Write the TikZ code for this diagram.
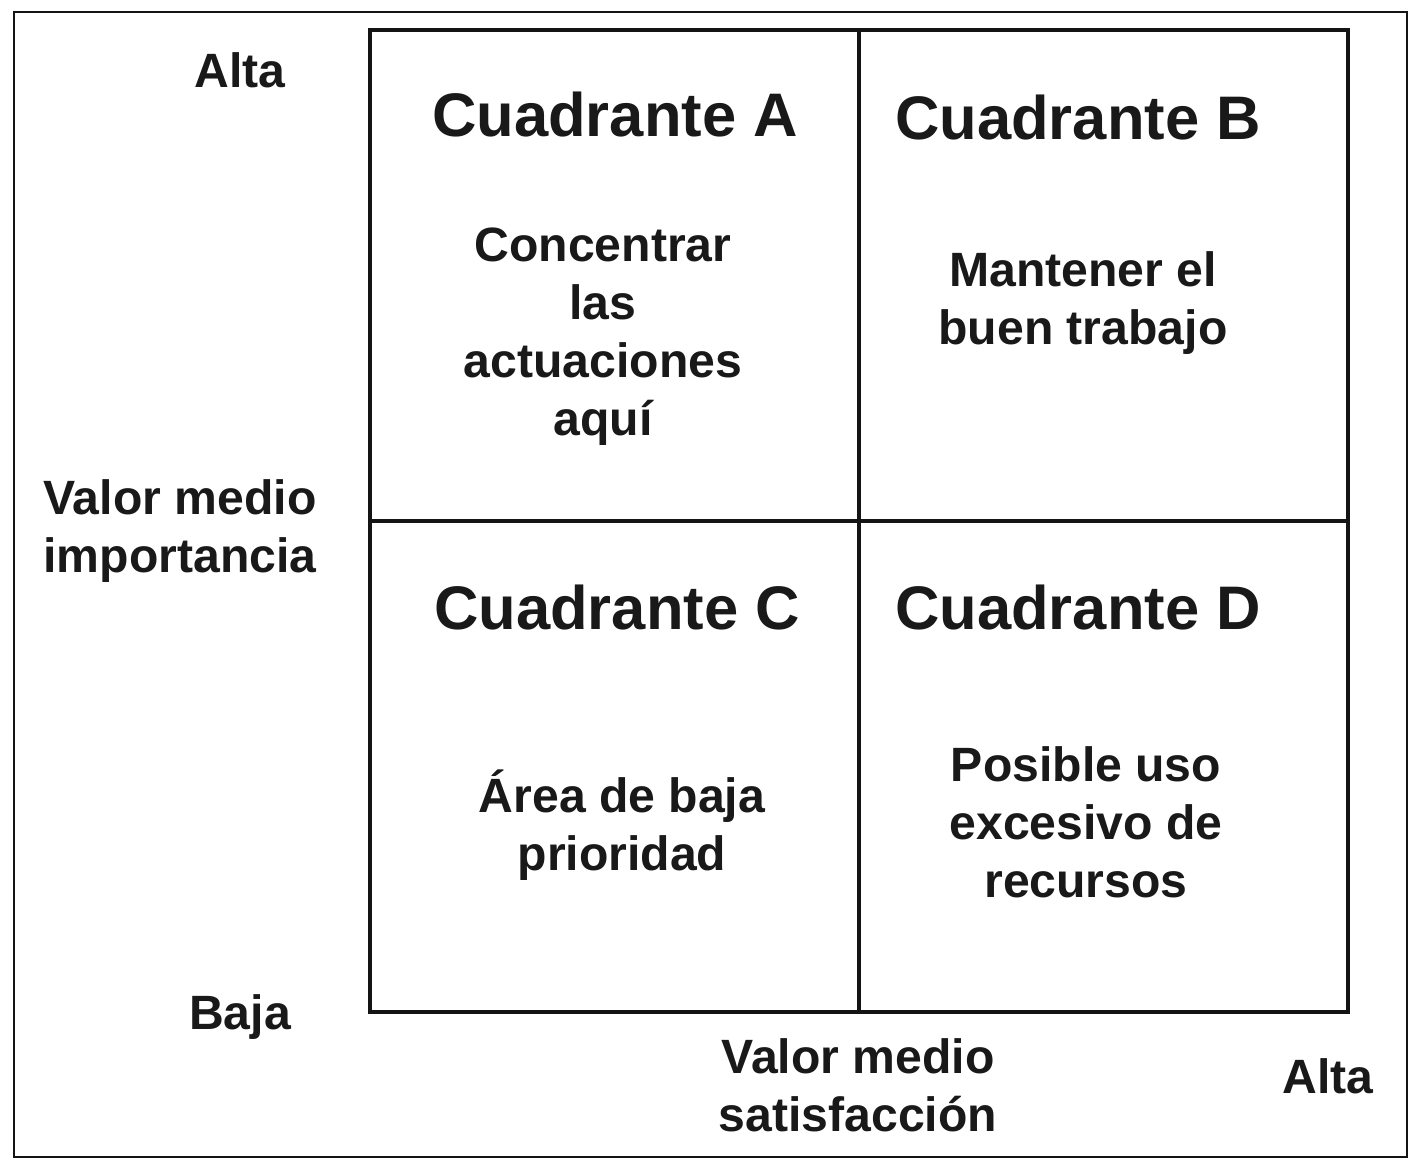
\documentclass[tikz,border=0pt]{standalone}
\usepackage{fontspec}
\setmainfont{Liberation Sans}
\definecolor{linea}{RGB}{20, 20, 20}
\definecolor{tinta}{RGB}{25, 25, 25}
\usetikzlibrary{positioning}

\begin{document}
\begin{tikzpicture}[node distance=0pt,
    every node/.style={font=\bfseries\fontsize{13.7}{16.5}\selectfont, text=tinta},
    cuadro/.style={draw=linea, line width=1.15pt, inner sep=0pt, outer sep=0pt, minimum width=4.89cm, minimum height=4.91cm},
    titulo/.style={font=\bfseries\fontsize{17.5}{21}\selectfont, anchor=base},
    texto/.style={align=center},
    eje/.style={align=center}]
    % page and outer frame
    \useasboundingbox (0,0) rectangle (14.19,11.68);
    \draw[linea, line width=0.85pt] (0.14,0.11) rectangle (14.07,11.56);
    % quadrants
    \node[cuadro] (qA) at (6.145,8.925) {};
    \node[cuadro, right=of qA] (qB) {};
    \node[cuadro, below=of qA] (qC) {};
    \node[cuadro, right=of qC] (qD) {};
    % titles
    \node[titulo] (tA) at (6.15,10.31) {Cuadrante A};
    \node[titulo] (tB) at (10.78,10.28) {Cuadrante B};
    \node[titulo] (tC) at (6.17,5.38) {Cuadrante C};
    \node[titulo] (tD) at (10.78,5.38) {Cuadrante D};
    % contents
    \node[texto] (cA) at (6.03,8.31) {Concentrar\\las\\actuaciones\\aquí};
    \node[texto] (cB) at (10.83,8.645) {Mantener el\\buen trabajo};
    \node[texto] (cC) at (6.22,3.43) {Área de baja\\prioridad};
    \node[texto] (cD) at (10.86,3.455) {Posible uso\\excesivo de\\recursos};
    % axis labels
    \node[anchor=base] (altaY) at (2.40,10.80) {Alta};
    \node[eje] (ejeY) at (1.80,6.37) {Valor medio\\importancia};
    \node[anchor=base] (bajaY) at (2.40,1.38) {Baja};
    \node[eje] (ejeX) at (8.58,0.83) {Valor medio\\satisfacción};
    \node[anchor=base] (altaX) at (13.28,0.75) {Alta};
\end{tikzpicture}
\end{document}
